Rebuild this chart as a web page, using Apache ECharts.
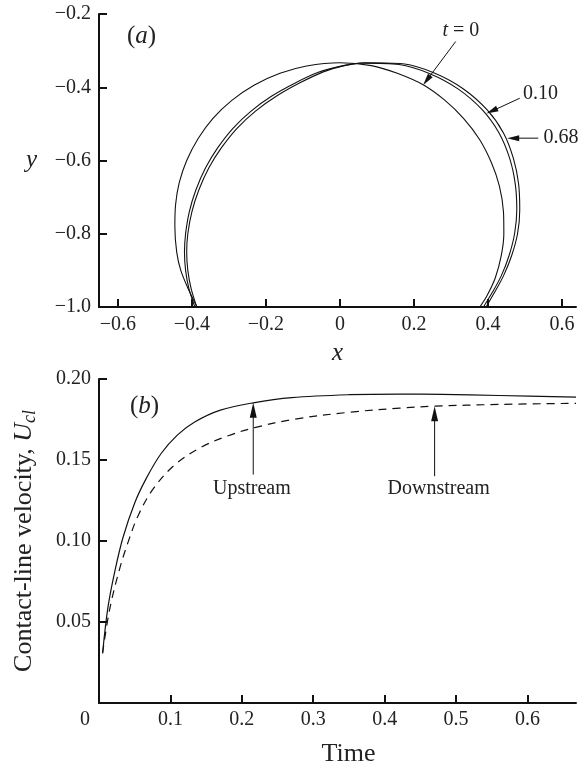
<!DOCTYPE html>
<html>
<head>
<meta charset="utf-8">
<script src="https://cdn.jsdelivr.net/npm/echarts@6/dist/echarts.min.js"></script>
<style>
  html, body { margin: 0; padding: 0; background: #fff; }
  #chart { width: 579px; height: 768px; }
</style>
</head>
<body>
<div id="chart"></div>
<script>
const shapeT0X = [-0.386, -0.41, -0.43, -0.441, -0.446, -0.444, -0.434, -0.414, -0.383, -0.343, -0.292, -0.231, -0.162, -0.09, 0.0, 0.085, 0.155, 0.226, 0.284, 0.334, 0.377, 0.409, 0.431, 0.442, 0.443, 0.436, 0.420, 0.397, 0.378];
const shapeT0Y = [-1.0, -0.95, -0.90, -0.85, -0.78, -0.72, -0.66, -0.60, -0.54, -0.485, -0.436, -0.394, -0.362, -0.342, -0.333, -0.341, -0.362, -0.394, -0.436, -0.485, -0.542, -0.605, -0.67, -0.74, -0.80, -0.86, -0.92, -0.97, -1.0];

const shapeT10X = [-0.392, -0.408, -0.417, -0.420, -0.417, -0.407, -0.389, -0.363, -0.330, -0.289, -0.240, -0.184, -0.122, -0.06, 0.0, 0.06, 0.16, 0.243, 0.32, 0.385, 0.43, 0.459, 0.474, 0.478, 0.472, 0.457, 0.436, 0.412, 0.388];
const shapeT10Y = [-1.0, -0.95, -0.90, -0.85, -0.80, -0.74, -0.68, -0.62, -0.565, -0.512, -0.465, -0.424, -0.389, -0.360, -0.343, -0.334, -0.338, -0.363, -0.405, -0.462, -0.525, -0.595, -0.665, -0.735, -0.80, -0.86, -0.915, -0.96, -1.0];

const shapeT68X = [-0.387, -0.402, -0.411, -0.414, -0.411, -0.400, -0.381, -0.354, -0.320, -0.278, -0.228, -0.171, -0.108, -0.045, 0.012, 0.07, 0.17, 0.255, 0.333, 0.398, 0.442, 0.469, 0.483, 0.486, 0.480, 0.464, 0.442, 0.418, 0.395];
const shapeT68Y = [-1.0, -0.95, -0.90, -0.85, -0.80, -0.74, -0.68, -0.62, -0.565, -0.512, -0.465, -0.424, -0.388, -0.358, -0.341, -0.333, -0.336, -0.361, -0.404, -0.462, -0.525, -0.595, -0.665, -0.735, -0.80, -0.86, -0.915, -0.96, -1.0];

// (b) Contact-line velocity against time
const upstreamTime = [0.005, 0.0125, 0.022, 0.0335, 0.05, 0.066, 0.087, 0.11, 0.134, 0.17, 0.216, 0.27, 0.35, 0.42, 0.48, 0.56, 0.668];
const upstreamVel  = [0.0307, 0.059, 0.081, 0.102, 0.1235, 0.1385, 0.1540, 0.1655, 0.1735, 0.1808, 0.1853, 0.1885, 0.1903, 0.1907, 0.1905, 0.1898, 0.1888];

const downstreamTime = [0.005, 0.015, 0.029, 0.0405, 0.0546, 0.0756, 0.106, 0.1435, 0.181, 0.218, 0.274, 0.351, 0.421, 0.47, 0.56, 0.668];
const downstreamVel  = [0.0307, 0.0580, 0.0830, 0.0990, 0.1155, 0.1320, 0.1470, 0.1580, 0.1650, 0.1700, 0.1752, 0.1795, 0.1820, 0.1832, 0.1843, 0.1850];

// Tick labels
const xTicksA = [-0.6, -0.4, -0.2, 0, 0.2, 0.4, 0.6];
const xTicksB = [0, 0.1, 0.2, 0.3, 0.4, 0.5, 0.6];

// Arrow annotations (data coordinates)
const notesA = [
  { tail: [0.313, -0.275], tip: [0.225, -0.394], at: [0.327, -0.245], text: '{i|t} = 0', align: 'center' },
  { tail: [0.486, -0.430], tip: [0.396, -0.472], at: [0.495, -0.417], text: '0.10', align: 'left' },
  { tail: [0.536, -0.539], tip: [0.452, -0.539], at: [0.550, -0.538], text: '0.68', align: 'left' }
];
const notesB = [
  { tail: [0.216, 0.141], tip: [0.216, 0.1853], at: [0.214, 0.1325], text: 'Upstream', align: 'center' },
  { tail: [0.470, 0.140], tip: [0.470, 0.1832], at: [0.4756, 0.1320], text: 'Downstream', align: 'center' }
];

const SERIF = "'Liberation Serif', 'Times New Roman', serif";
const INK = '#111';
const TXT = '#222';

const zip = (xs, ys) => xs.map((x, i) => [x, ys[i]]);
const minus = s => s.replace('-', '\u2212');

function arrowRenderer(list, headLen, headW, fontSize) {
  return function (params, api) {
    const a = list[params.dataIndex];
    const p0 = api.coord(a.tail);
    const p1 = api.coord(a.tip);
    const dx = p1[0] - p0[0], dy = p1[1] - p0[1];
    const len = Math.hypot(dx, dy);
    const ux = dx / len, uy = dy / len;
    const nx = -uy, ny = ux;
    const bx = p1[0] - ux * headLen, by = p1[1] - uy * headLen;
    const lp = api.coord(a.at);
    return {
      type: 'group',
      children: [
        { type: 'line', shape: { x1: p0[0], y1: p0[1], x2: bx + ux * 2, y2: by + uy * 2 },
          style: { stroke: INK, lineWidth: 1 } },
        { type: 'polygon', shape: { points: [p1, [bx + nx * headW / 2, by + ny * headW / 2], [bx - nx * headW / 2, by - ny * headW / 2]] },
          style: { fill: INK } },
        { type: 'text', x: lp[0], y: lp[1],
          style: { text: a.text, fill: TXT, fontFamily: SERIF, fontSize: fontSize,
                   align: a.align, verticalAlign: 'middle',
                   rich: { i: { fontFamily: SERIF, fontSize: fontSize, fontStyle: 'italic', fill: TXT } } } }
      ]
    };
  };
}

const axisLineStyle = { show: true, onZero: false, lineStyle: { color: INK, width: 2 } };
const tickStyle = { show: true, inside: true, length: 8, lineStyle: { color: INK, width: 2 } };
const labelBase = { color: TXT, fontFamily: SERIF, fontSize: 20 };

const chart = echarts.init(document.getElementById('chart'), null, { renderer: 'canvas' });

chart.setOption({
  backgroundColor: '#fff',
  animation: false,
  grid: [
    { left: 99, top: 14, width: 477, height: 293 },
    { left: 99, top: 379, width: 477, height: 326 }
  ],
  xAxis: [
    {
      type: 'value', gridIndex: 0, min: -0.651, max: 0.638,
      axisLine: axisLineStyle,
      axisTick: Object.assign({}, tickStyle, { customValues: xTicksA }),
      axisLabel: Object.assign({}, labelBase, {
        customValues: xTicksA, margin: 8,
        formatter: v => (Math.abs(v) < 1e-9 ? '0' : minus(v.toFixed(1)))
      }),
      splitLine: { show: false },
      name: 'x', nameLocation: 'middle', nameGap: 34,
      nameTextStyle: { color: TXT, fontFamily: SERIF, fontSize: 25, fontStyle: 'italic' }
    },
    {
      type: 'value', gridIndex: 1, min: 0, max: 0.668,
      axisLine: axisLineStyle,
      axisTick: Object.assign({}, tickStyle, { customValues: xTicksB.slice(1) }),
      axisLabel: Object.assign({}, labelBase, {
        customValues: xTicksB, margin: 7,
        formatter: v => (Math.abs(v) < 1e-9 ? '{o|0}' : v.toFixed(1)),
        rich: { o: { fontFamily: SERIF, fontSize: 20, color: TXT, padding: [0, 28, 0, 0] } }
      }),
      splitLine: { show: false },
      name: 'Time', nameLocation: 'middle', nameGap: 38,
      nameTextStyle: { color: TXT, fontFamily: SERIF, fontSize: 26, padding: [0, 0, 0, 22] }
    }
  ],
  yAxis: [
    {
      type: 'value', gridIndex: 0, min: -1.0, max: -0.2, interval: 0.2,
      axisLine: axisLineStyle,
      axisTick: tickStyle,
      axisLabel: Object.assign({}, labelBase, { margin: 8, formatter: v => minus(v.toFixed(1)) }),
      splitLine: { show: false },
      name: 'y', nameLocation: 'middle', nameGap: 62, nameRotate: 0,
      nameTextStyle: { color: TXT, fontFamily: SERIF, fontSize: 25, fontStyle: 'italic' }
    },
    {
      type: 'value', gridIndex: 1, min: 0, max: 0.2, interval: 0.05,
      axisLine: axisLineStyle,
      axisTick: tickStyle,
      axisLabel: Object.assign({}, labelBase, { margin: 8, formatter: v => (v < 1e-9 ? '' : v.toFixed(2)) }),
      splitLine: { show: false },
      name: 'Contact-line velocity, {u|U}{s|cl}', nameLocation: 'middle', nameGap: 60,
      nameTextStyle: {
        color: TXT, fontFamily: SERIF, fontSize: 26, lineHeight: 30,
        rich: {
          u: { fontFamily: SERIF, fontSize: 26, fontStyle: 'italic', color: TXT, lineHeight: 30 },
          s: { fontFamily: SERIF, fontSize: 18, fontStyle: 'italic', color: TXT, lineHeight: 30, verticalAlign: 'bottom' }
        }
      }
    }
  ],
  graphic: [
    { type: 'text', x: 127, y: 36,
      style: { text: '({i|a})', fill: TXT, fontFamily: SERIF, fontSize: 25, verticalAlign: 'middle',
               rich: { i: { fontFamily: SERIF, fontSize: 25, fontStyle: 'italic', fill: TXT } } } },
    { type: 'text', x: 130, y: 406,
      style: { text: '({i|b})', fill: TXT, fontFamily: SERIF, fontSize: 25, verticalAlign: 'middle',
               rich: { i: { fontFamily: SERIF, fontSize: 25, fontStyle: 'italic', fill: TXT } } } }
  ],
  series: [
    { name: 't = 0', type: 'line', xAxisIndex: 0, yAxisIndex: 0, data: zip(shapeT0X, shapeT0Y),
      smooth: 0.3, showSymbol: false, lineStyle: { color: INK, width: 1.1 } },
    { name: 't = 0.10', type: 'line', xAxisIndex: 0, yAxisIndex: 0, data: zip(shapeT10X, shapeT10Y),
      smooth: 0.3, showSymbol: false, lineStyle: { color: INK, width: 1.1 } },
    { name: 't = 0.68', type: 'line', xAxisIndex: 0, yAxisIndex: 0, data: zip(shapeT68X, shapeT68Y),
      smooth: 0.3, showSymbol: false, lineStyle: { color: INK, width: 1.1 } },
    { name: 'Upstream', type: 'line', xAxisIndex: 1, yAxisIndex: 1, data: zip(upstreamTime, upstreamVel),
      smooth: 0.35, showSymbol: false, lineStyle: { color: INK, width: 1.2 } },
    { name: 'Downstream', type: 'line', xAxisIndex: 1, yAxisIndex: 1, data: zip(downstreamTime, downstreamVel),
      smooth: 0.35, showSymbol: false, lineStyle: { color: INK, width: 1.2, type: [8, 6] } },
    { type: 'custom', xAxisIndex: 0, yAxisIndex: 0, clip: false,
      data: notesA.map(a => a.tip), renderItem: arrowRenderer(notesA, 12, 6, 20), silent: true },
    { type: 'custom', xAxisIndex: 1, yAxisIndex: 1, clip: false,
      data: notesB.map(a => a.tip), renderItem: arrowRenderer(notesB, 15, 7, 20), silent: true }
  ]
});
</script>
</body>
</html>
